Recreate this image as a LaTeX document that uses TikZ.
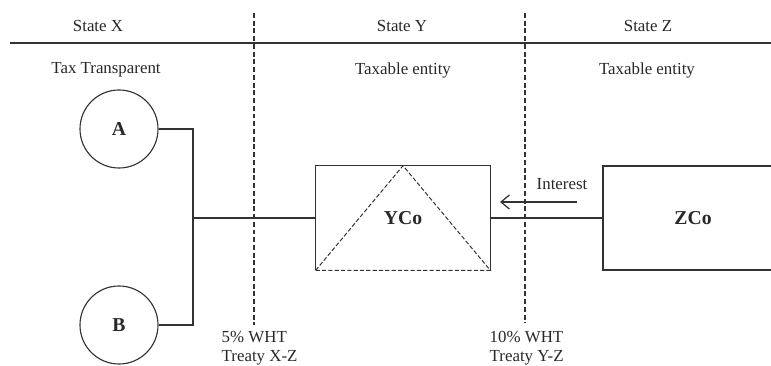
\documentclass[tikz,border=0pt]{standalone}
\usepackage{fontspec}
\setmainfont{Liberation Serif}
\usetikzlibrary{arrows.meta,positioning,calc}
\definecolor{linegray}{RGB}{50,50,50}
\definecolor{textgray}{RGB}{40,40,40}

\begin{document}
\begin{tikzpicture}[x=0.025cm, y=-0.025cm,
    party/.style={circle, draw=linegray, line width=0.8pt, minimum size=1.95cm, inner sep=0pt, font=\fontsize{14}{15}\selectfont\bfseries, text=textgray},
    company/.style={rectangle, minimum height=2.6cm, inner sep=0pt, font=\fontsize{14}{15}\selectfont\bfseries, text=textgray},
    caption/.style={font=\fontsize{12}{13}\selectfont, text=textgray, inner sep=1pt},
    note/.style={caption, align=left, anchor=north west},
    link/.style={draw=linegray, line width=0.9pt},
    border/.style={draw=linegray, line width=0.9pt, dash pattern=on 3.5pt off 2pt},
    flow/.style={link, -{Straight Barb[length=6pt, width=10pt]}}
]
\clip (0,0) rectangle (771,366);

% headings
\node[caption] (statex) at (98,26) {State X};
\node[caption] (statey) at (402,26) {State Y};
\node[caption] (statez) at (648,26) {State Z};
\draw[link] (10,43) -- (771,43);
\node[caption] (typex) at (106,70) {Tax Transparent};
\node[caption] (typey) at (403,70) {Taxable entity};
\node[caption] (typez) at (647,70) {Taxable entity};

% borders
\draw[border] (254,13) -- (254,325);
\draw[border] (525,13) -- (525,323);

% entities
\node[party] (a) at (119,129) {A};
\node[party] (b) at (119,325) {B};
\node[company, minimum width=4.35cm] (yco) at (403,218) {YCo};
\node[company, minimum width=4.5cm, draw=linegray, line width=0.9pt] (zco) at (693,218) {ZCo};
\draw[link] (yco.south west) -- (yco.north west) -- (yco.north east) -- (yco.south east);
\draw[link, dash pattern=on 3pt off 1.5pt, line width=0.7pt] (yco.south west) -- (yco.north) -- (yco.south east) -- cycle;

% connectors
\coordinate (fork) at (193,218);
\draw[link] (a.east) -| (fork) |- (b.east);
\draw[link] (fork) -- (yco.west);
\draw[link] (yco.east) -- (zco.west);

% interest
\coordinate (intfrom) at (577,202);
\coordinate (intto) at (500,202);
\draw[flow] (intfrom) -- (intto);
\node[caption] (interest) at (562,184) {Interest};

% treaty notes
\node[note] (whtxz) at (220,330) {5\% WHT\\Treaty X-Z};
\node[note] (whtyz) at (488,330) {10\% WHT\\Treaty Y-Z};
\end{tikzpicture}
\end{document}
